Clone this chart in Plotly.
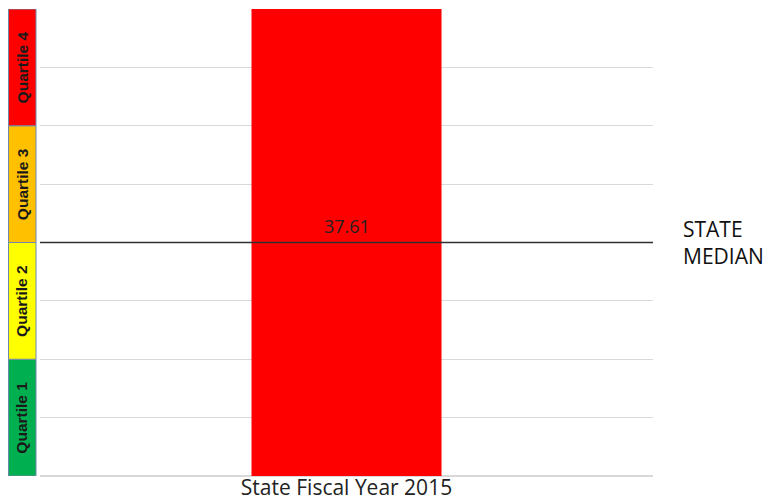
import plotly.graph_objects as go

categories = ["State Fiscal Year 2015"]
bar_values = [75.22]
state_median = 37.61
quartile_labels = ["Quartile 1", "Quartile 2", "Quartile 3", "Quartile 4"]
quartile_bounds = [0, 18.805, 37.61, 56.415, 75.22]
quartile_colors = ["#00b050", "#ffff00", "#ffc000", "#ff0000"]
y_max = 75.22

W, H = 766, 493
B = 25
PH = H - B

fig = go.Figure()
fig.add_trace(go.Bar(x=categories, y=bar_values, marker_color="#ff0000",
                     marker_line_width=0, width=0.31, hoverinfo="skip"))

shapes = []
annotations = []
for lab, lo, hi, col in zip(quartile_labels, quartile_bounds[:-1], quartile_bounds[1:], quartile_colors):
    shapes.append(dict(type="rect", xref="paper", yref="y", x0=0.5 / W, x1=28 / W,
                       y0=lo, y1=hi, fillcolor=col, line=dict(color="#6f87a8", width=1),
                       layer="above"))
    annotations.append(dict(xref="paper", yref="y", x=14 / W, y=(lo + hi) / 2,
                            xanchor="center", yanchor="middle",
                            text="<b>" + lab + "</b>", textangle=-90, showarrow=False,
                            font=dict(family="Liberation Sans", size=15.5, color="#1a1a1a")))

shapes.append(dict(type="line", xref="paper", yref="y", x0=32 / W, x1=645 / W,
                   y0=state_median, y1=state_median, line=dict(color="#303030", width=1.5),
                   layer="above"))
annotations.append(dict(xref="x", yref="y", x=categories[0], y=state_median,
                        text=f"{state_median:.2f}", showarrow=False, yanchor="bottom", yshift=3,
                        font=dict(family="Open Sans", size=18, color="#222222")))
annotations.append(dict(xref="paper", yref="y", x=673 / W, y=state_median, xanchor="left",
                        yanchor="middle",
                        text="STATE<br>MEDIAN", showarrow=False, align="left",
                        font=dict(family="Open Sans", size=21, color="#111111")))

fig.update_layout(
    width=W, height=H,
    margin=dict(l=0, r=0, t=0, b=B, pad=0),
    plot_bgcolor="white", paper_bgcolor="white",
    showlegend=False,
    shapes=shapes, annotations=annotations,
    xaxis=dict(domain=[32 / W, 645 / W], showgrid=False, showline=False, ticks="",
               range=[-0.5, 0.5], automargin=False, ticklabelstandoff=-3,
               tickfont=dict(family="Open Sans", size=21, color="#222222")),
    yaxis=dict(domain=[0, 1 - 1 / PH], range=[0, y_max], dtick=y_max / 8,
               showticklabels=False, automargin=False,
               gridcolor="#d9d9d9", gridwidth=1, zeroline=True, zerolinecolor="#d9d9d9",
               showline=False, ticks=""),
)

fig.write_html("out.html")
